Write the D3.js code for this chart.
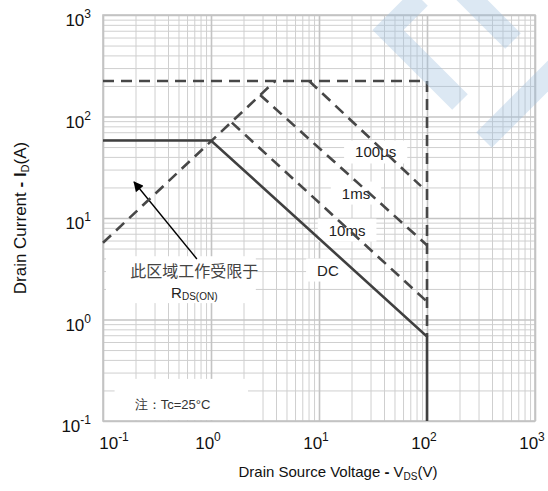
<!DOCTYPE html>
<html><head><meta charset="utf-8">
<script src="https://cdn.jsdelivr.net/npm/d3@7"></script>
<style>
body{margin:0;background:#fff}
svg{display:block;font-family:"Liberation Sans",Arial,sans-serif}
</style>
</head><body>
<svg id="c" width="548" height="491"></svg>
<script>
// ---- data ----
const decades = [0.1, 1, 10, 100, 1000];
const decadeExp = ["-1", "0", "1", "2", "3"];
// R_DS(on) limit (dashed)
const rdsV = [0.1, 3.93];
const rdsI = [5.7, 224];
// package / BVdss limit (dashed)
const limV = [0.1, 100, 100];
const limI = [224, 224, 0.68];
// DC (solid)
const dcV = [0.1, 1.0, 100, 100];
const dcI = [58, 58, 0.68, 0.1];
// pulse curves (dashed)
const us100V = [8.1, 88];
const us100I = [224, 20.6];
const ms1V = [2.85, 100];
const ms1I = [163, 5.4];
const ms10V = [1.56, 100];
const ms10I = [87, 1.5];
// curve labels
const curveLabels = ["100μs", "1ms", "10ms", "DC"];
const curveLabelV = [33.5, 22, 18.2, 12.1];
const curveLabelI = [44.7, 17.6, 7.6, 3.07];

const svg = d3.select("#c");
const L = 103, R = 535, T = 15, B = 421;
const x = d3.scaleLog().domain([0.1, 1000]).range([L, R]);
const y = d3.scaleLog().domain([0.1, 1000]).range([B, T]);

const zip = (a, b) => a.map((v, i) => [v, b[i]]);

// grid values
const minor = [], major = [];
decades.forEach((d, i) => {
  if (i < decades.length - 1) for (let k = 2; k <= 9; k++) minor.push(d * k);
  major.push(d);
});

const gx = svg.append("g").attr("transform", `translate(0,${B})`)
  .call(d3.axisBottom(x).tickValues(minor).tickSize(-(B - T)).tickFormat(""));
const gy = svg.append("g").attr("transform", `translate(${L},0)`)
  .call(d3.axisLeft(y).tickValues(minor).tickSize(-(R - L)).tickFormat(""));
[gx, gy].forEach(g => { g.select(".domain").remove(); g.selectAll("line").attr("stroke", "#cfcfcf").attr("stroke-width", 1); });
const gx2 = svg.append("g").attr("transform", `translate(0,${B})`)
  .call(d3.axisBottom(x).tickValues(major).tickSize(-(B - T)).tickFormat(""));
const gy2 = svg.append("g").attr("transform", `translate(${L},0)`)
  .call(d3.axisLeft(y).tickValues(major).tickSize(-(R - L)).tickFormat(""));
[gx2, gy2].forEach(g => { g.select(".domain").remove(); g.selectAll("line").attr("stroke", "#c4c4c4").attr("stroke-width", 1.6); });
svg.append("rect").attr("x", L).attr("y", T).attr("width", R - L).attr("height", B - T)
  .attr("fill", "none").attr("stroke", "#c4c4c4").attr("stroke-width", 1.6);

// white boxes + labels
function boxedText(g, txtSel, padX, padY) {
  const bb = txtSel.node().getBBox();
  g.insert("rect", "text").attr("x", bb.x - padX).attr("y", bb.y - padY)
    .attr("width", bb.width + 2 * padX).attr("height", bb.height + 2 * padY).attr("fill", "#fff");
}
curveLabels.forEach((t, i) => {
  const g = svg.append("g");
  const tx = g.append("text").attr("x", x(curveLabelV[i])).attr("y", y(curveLabelI[i]))
    .attr("text-anchor", "middle").attr("dominant-baseline", "central")
    .attr("font-size", 15).attr("fill", "#222").text(t);
  boxedText(g, tx, 11, 3);
});

// R_DS(ON) note
const noteG = svg.append("g");
noteG.append("rect").attr("x", L + 3).attr("y", y(4.2)).attr("width", x(2.6) - L - 3).attr("height", y(1.45) - y(4.2)).attr("fill", "#fff");
noteG.append("text").attr("x", x(0.70)).attr("y", y(3.07)).attr("text-anchor", "middle")
  .attr("dominant-baseline", "central").attr("font-family", "'Noto Sans CJK SC'")
  .attr("font-size", 16).attr("fill", "#444").text("此区域工作受限于");
const rt = noteG.append("text").attr("x", x(0.70)).attr("y", y(1.87)).attr("text-anchor", "middle")
  .attr("dominant-baseline", "central").attr("font-size", 15).attr("fill", "#222");
rt.append("tspan").text("R");
rt.append("tspan").attr("font-size", 10).attr("dy", 4).text("DS(ON)");

// Tc note
const tcG = svg.append("g");
tcG.append("rect").attr("x", x(0.128)).attr("y", y(0.26)).attr("width", x(2.2) - x(0.128)).attr("height", B - y(0.26) - 1).attr("fill", "#fff");
tcG.append("text").attr("x", x(0.44)).attr("y", y(0.147)).attr("text-anchor", "middle")
  .attr("dominant-baseline", "central").attr("font-size", 13).attr("fill", "#333")
  .text("注：Tc=25°C");

// arrow
svg.append("defs").append("marker").attr("id", "ah").attr("viewBox", "0 0 10 10")
  .attr("refX", 9).attr("refY", 5).attr("markerWidth", 12).attr("markerHeight", 10)
  .attr("markerUnits", "userSpaceOnUse").attr("orient", "auto")
  .append("path").attr("d", "M0,0L10,5L0,10z").attr("fill", "#000");
svg.append("line").attr("x1", x(0.74)).attr("y1", y(3.95)).attr("x2", x(0.194)).attr("y2", y(22.6))
  .attr("stroke", "#000").attr("stroke-width", 1.4).attr("marker-end", "url(#ah)");

// curves
const line = d3.line().x(d => x(d[0])).y(d => y(d[1]));
const dashed = [[rdsV, rdsI], [limV, limI], [us100V, us100I], [ms1V, ms1I], [ms10V, ms10I]];
dashed.forEach(([v, i]) => svg.append("path").attr("d", line(zip(v, i))).attr("fill", "none")
  .attr("stroke", "#474747").attr("stroke-width", 2.6).attr("stroke-dasharray", "11,7"));
svg.append("path").attr("d", line(zip(dcV, dcI))).attr("fill", "none")
  .attr("stroke", "#404040").attr("stroke-width", 2.6);

// tick labels
function powLabel(sel, exp) {
  sel.append("tspan").text("10");
  sel.append("tspan").attr("font-size", 12).attr("dy", -8).text(exp);
}
decades.forEach((d, i) => {
  const tx = svg.append("text").attr("x", Math.max(x(d) - 3, L + 11)).attr("y", 449)
    .attr("text-anchor", "middle").attr("font-size", 17).attr("fill", "#111");
  powLabel(tx, decadeExp[i]);
  const ty = svg.append("text").attr("x", 91).attr("y", y(d) + 11)
    .attr("text-anchor", "end").attr("font-size", 17).attr("fill", "#111");
  powLabel(ty, decadeExp[i]);
});

// axis titles
const xt = svg.append("text").attr("x", 338).attr("y", 477).attr("text-anchor", "middle")
  .attr("font-size", 15).attr("fill", "#111");
xt.append("tspan").text("Drain Source Voltage ");
xt.append("tspan").attr("font-weight", "bold").text("-");
xt.append("tspan").text(" V");
xt.append("tspan").attr("font-size", 10).attr("dy", 3).text("DS");
xt.append("tspan").attr("dy", -3).text("(V)");

const yt = svg.append("text").attr("transform", "translate(26,218) rotate(-90)")
  .attr("text-anchor", "middle").attr("font-size", 17).attr("fill", "#111");
yt.append("tspan").text("Drain Current ");
yt.append("tspan").attr("font-weight", "bold").text("- I");
yt.append("tspan").attr("font-size", 11).attr("dy", 3).text("D");
yt.append("tspan").attr("dy", -3).text("(A)");

// watermark (decorative)
const wm = svg.append("g").attr("fill", "none").attr("stroke", "#9fbfdf").attr("stroke-opacity", 0.36)
  .attr("stroke-width", 22);
wm.append("path").attr("d", "M420,-2L388,30L460,102").attr("stroke-linejoin", "miter");
wm.append("path").attr("d", "M455,-17L513,41");
wm.append("path").attr("d", "M560,64L484,140");
</script>
</body></html>
